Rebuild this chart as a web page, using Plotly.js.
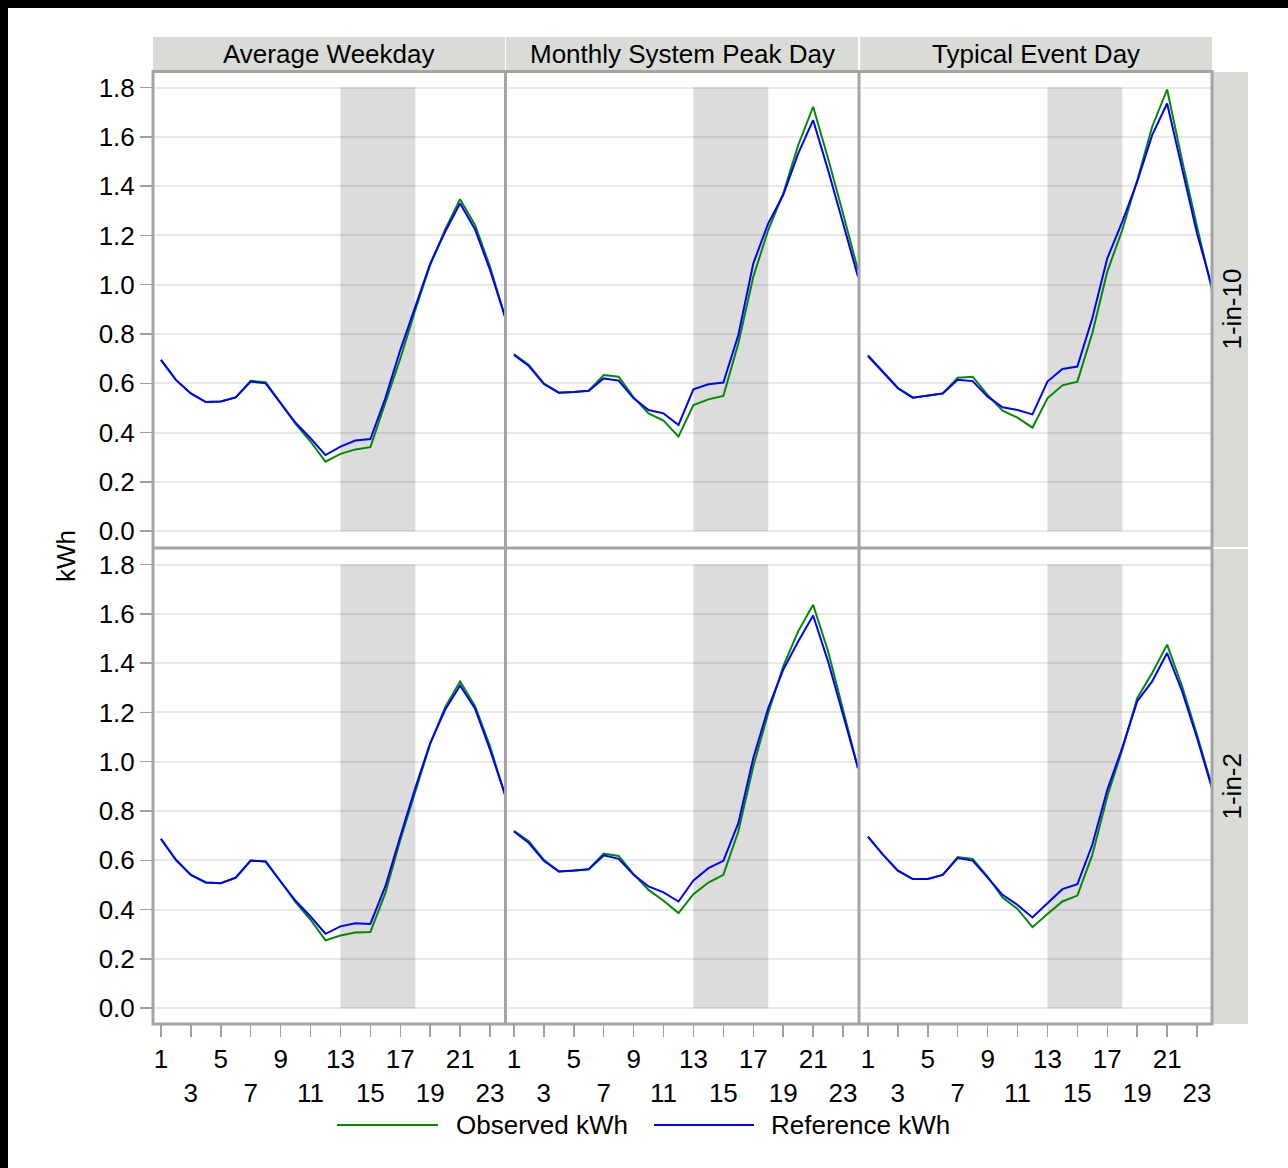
<!DOCTYPE html>
<html><head><meta charset="utf-8">
<script src="https://cdn.plot.ly/plotly-3.0.1.min.js"></script>
<style>html,body{margin:0;padding:0;background:#fff}#chart{width:1288px;height:1168px}</style>
</head><body><div id="chart"></div>
<script>
// ---------------- data ----------------
const hours = [1,2,3,4,5,6,7,8,9,10,11,12,13,14,15,16,17,18,19,20,21,22,23,24];
const dayTypes = ['Average Weekday', 'Monthly System Peak Day', 'Typical Event Day'];
const weatherScenarios = ['1-in-10', '1-in-2'];
const seriesNames = ['Observed kWh', 'Reference kWh'];
const xTickVals = [1,3,5,7,9,11,13,15,17,19,21,23];
const xTickText = ['1','<br>3','5','<br>7','9','<br>11','13','<br>15','17','<br>19','21','<br>23'];
const yTickVals = [0.0,0.2,0.4,0.6,0.8,1.0,1.2,1.4,1.6,1.8];
const yTickText = ['0.0','0.2','0.4','0.6','0.8','1.0','1.2','1.4','1.6','1.8'];
const eventWindow = [13, 18];
const shadeTop = 1.8;

// 1-in-10
const obsAvgWeekday_1in10 = [0.695,0.614,0.559,0.524,0.526,0.543,0.610,0.605,0.520,0.435,0.364,0.282,0.314,0.332,0.341,0.520,0.700,0.897,1.080,1.224,1.347,1.242,1.073,0.870];
const refAvgWeekday_1in10 = [0.695,0.614,0.559,0.524,0.526,0.543,0.607,0.600,0.520,0.440,0.377,0.309,0.343,0.368,0.374,0.539,0.735,0.910,1.086,1.215,1.330,1.224,1.060,0.870];
const obsPeakDay_1in10    = [0.719,0.674,0.600,0.562,0.565,0.570,0.634,0.627,0.543,0.478,0.449,0.384,0.512,0.535,0.549,0.762,1.032,1.222,1.370,1.566,1.722,1.512,1.289,1.059];
const refPeakDay_1in10    = [0.715,0.670,0.597,0.562,0.565,0.570,0.620,0.611,0.539,0.492,0.478,0.431,0.576,0.596,0.603,0.796,1.086,1.249,1.364,1.532,1.668,1.465,1.249,1.032];
const obsEventDay_1in10   = [0.714,0.650,0.582,0.542,0.550,0.559,0.623,0.627,0.553,0.489,0.461,0.420,0.539,0.592,0.607,0.803,1.053,1.222,1.424,1.641,1.792,1.505,1.235,0.978];
const refEventDay_1in10   = [0.711,0.647,0.580,0.542,0.550,0.559,0.614,0.609,0.546,0.503,0.492,0.474,0.607,0.658,0.668,0.864,1.107,1.255,1.418,1.607,1.735,1.465,1.208,0.992];
// 1-in-2
const obsAvgWeekday_1in2  = [0.687,0.602,0.541,0.510,0.507,0.530,0.599,0.595,0.514,0.430,0.359,0.275,0.295,0.307,0.309,0.467,0.683,0.880,1.072,1.221,1.326,1.225,1.062,0.866];
const refAvgWeekday_1in2  = [0.687,0.602,0.541,0.510,0.507,0.530,0.599,0.595,0.514,0.436,0.372,0.302,0.332,0.345,0.342,0.494,0.697,0.893,1.076,1.211,1.309,1.215,1.049,0.866];
const obsPeakDay_1in2     = [0.720,0.677,0.602,0.555,0.558,0.564,0.627,0.618,0.544,0.480,0.436,0.386,0.463,0.510,0.541,0.717,0.981,1.198,1.387,1.529,1.637,1.448,1.211,0.974];
const refPeakDay_1in2     = [0.717,0.670,0.598,0.555,0.559,0.564,0.620,0.606,0.541,0.494,0.470,0.433,0.518,0.568,0.598,0.751,1.015,1.218,1.373,1.488,1.593,1.407,1.191,0.974];
const obsEventDay_1in2    = [0.696,0.623,0.558,0.524,0.524,0.541,0.613,0.606,0.534,0.449,0.403,0.329,0.382,0.433,0.457,0.622,0.859,1.049,1.258,1.360,1.475,1.306,1.109,0.900];
const refEventDay_1in2    = [0.696,0.623,0.558,0.524,0.524,0.541,0.609,0.599,0.530,0.460,0.419,0.368,0.426,0.483,0.503,0.663,0.886,1.056,1.245,1.326,1.441,1.286,1.096,0.893];

const panelObserved = [
  [obsAvgWeekday_1in10, obsPeakDay_1in10, obsEventDay_1in10],
  [obsAvgWeekday_1in2,  obsPeakDay_1in2,  obsEventDay_1in2]
];
const panelReference = [
  [refAvgWeekday_1in10, refPeakDay_1in10, refEventDay_1in10],
  [refAvgWeekday_1in2,  refPeakDay_1in2,  refEventDay_1in2]
];

// ---------------- layout helpers ----------------
const W = 1288, H = 1168;
const PX = p => p / W;
const PY = p => 1 - p / H;
const cols = [[153, 505], [506, 858], [860, 1212]];
const rows = [[72, 547], [549, 1024]];
const FONT = 'Liberation Sans, Arial, Helvetica, sans-serif';
const GREEN = '#008a00', BLUE = '#0000ff';
const BORDER = '#a4a4a4', STRIP = '#d9dbd6';

const traces = [];
const layout = {
  width: W, height: H,
  margin: {l: 0, r: 0, t: 0, b: 0, pad: 0},
  paper_bgcolor: '#ffffff', plot_bgcolor: '#ffffff',
  showlegend: false,
  font: {family: FONT, size: 26, color: '#000'},
  shapes: [], annotations: []
};

for (let r = 0; r < 2; r++) {
  for (let c = 0; c < 3; c++) {
    const n = r * 3 + c + 1;
    const xid = n === 1 ? 'x' : 'x' + n;
    const yid = n === 1 ? 'y' : 'y' + n;
    const xkey = n === 1 ? 'xaxis' : 'xaxis' + n;
    const ykey = n === 1 ? 'yaxis' : 'yaxis' + n;
    layout[xkey] = {
      domain: [PX(cols[c][0]), PX(cols[c][1])],
      range: [0.47, 24.0], anchor: yid,
      showgrid: false, zeroline: false, showline: false,
      tickmode: 'array', tickvals: xTickVals, ticktext: xTickText,
      tickangle: 0,
      showticklabels: r === 1, ticks: r === 1 ? 'outside' : '',
      ticklen: 12, tickwidth: 1.5, tickcolor: '#a0a0a0',
      tickfont: {family: FONT, size: 26, color: '#000'},
      fixedrange: true
    };
    layout[ykey] = {
      domain: [PY(rows[r][1]), PY(rows[r][0])],
      range: [-0.064, 1.863], anchor: xid,
      showgrid: true, gridcolor: 'rgba(0,0,0,0.09)', gridwidth: 2,
      zeroline: false, showline: false,
      tickmode: 'array', tickvals: yTickVals, ticktext: yTickText,
      showticklabels: c === 0, ticks: c === 0 ? 'outside' : '',
      ticklen: 12, tickwidth: 1.5, tickcolor: '#a0a0a0',
      tickfont: {family: FONT, size: 26, color: '#000'},
      fixedrange: true
    };
    // event window shading
    layout.shapes.push({type: 'rect', xref: xid, yref: yid,
      x0: eventWindow[0], x1: eventWindow[1], y0: 0, y1: shadeTop,
      fillcolor: '#dcdcdc', line: {width: 0}, layer: 'below'});
    traces.push({x: hours, y: panelObserved[r][c], xaxis: xid, yaxis: yid,
      type: 'scatter', mode: 'lines', name: seriesNames[0],
      line: {color: GREEN, width: 2}, hoverinfo: 'x+y'});
    traces.push({x: hours, y: panelReference[r][c], xaxis: xid, yaxis: yid,
      type: 'scatter', mode: 'lines', name: seriesNames[1],
      line: {color: BLUE, width: 2}, hoverinfo: 'x+y'});
  }
}

// strips (column headers)
for (let c = 0; c < 3; c++) {
  layout.shapes.push({type: 'rect', xref: 'paper', yref: 'paper',
    x0: PX(cols[c][0]), x1: PX(cols[c][1]), y0: PY(71), y1: PY(37),
    fillcolor: STRIP, line: {width: 0}, layer: 'above'});
  layout.annotations.push({xref: 'paper', yref: 'paper',
    x: PX((cols[c][0] + cols[c][1]) / 2), y: PY(54),
    xanchor: 'center', yanchor: 'middle', showarrow: false,
    text: dayTypes[c], font: {family: FONT, size: 26, color: '#000'}});
}
// strips (row headers)
for (let r = 0; r < 2; r++) {
  layout.shapes.push({type: 'rect', xref: 'paper', yref: 'paper',
    x0: PX(1213), x1: PX(1248), y0: PY(rows[r][1]), y1: PY(rows[r][0]),
    fillcolor: STRIP, line: {width: 0}, layer: 'above'});
  layout.annotations.push({xref: 'paper', yref: 'paper',
    x: PX(1231), y: PY((rows[r][0] + rows[r][1]) / 2),
    xanchor: 'center', yanchor: 'middle', showarrow: false, textangle: -90,
    text: weatherScenarios[r], font: {family: FONT, size: 26, color: '#000'}});
}

// panel borders
const bl = {color: BORDER, width: 3};
layout.shapes.push({type: 'rect', xref: 'paper', yref: 'paper',
  x0: PX(153), x1: PX(1212), y0: PY(1024), y1: PY(71.5), line: bl, layer: 'above'});
[505.5, 859].forEach(xp => layout.shapes.push({type: 'line', xref: 'paper', yref: 'paper',
  x0: PX(xp), x1: PX(xp), y0: PY(1024), y1: PY(71.5), line: bl, layer: 'above'}));
layout.shapes.push({type: 'line', xref: 'paper', yref: 'paper',
  x0: PX(153), x1: PX(1212), y0: PY(548), y1: PY(548), line: bl, layer: 'above'});

// y axis title
layout.annotations.push({xref: 'paper', yref: 'paper', x: PX(66), y: PY(556),
  xanchor: 'center', yanchor: 'middle', showarrow: false, textangle: -90,
  text: 'kWh', font: {family: FONT, size: 26, color: '#000'}});

// legend (keys + labels)
const legendY = 1125;
[[337, 438, GREEN, 454, seriesNames[0]], [654, 754, BLUE, 769, seriesNames[1]]].forEach(([a, b, col, tx, label]) => {
  layout.shapes.push({type: 'line', xref: 'paper', yref: 'paper',
    x0: PX(a), x1: PX(b), y0: PY(legendY), y1: PY(legendY), line: {color: col, width: 2}});
  layout.annotations.push({xref: 'paper', yref: 'paper', x: PX(tx), y: PY(legendY),
    xanchor: 'left', yanchor: 'middle', showarrow: false,
    text: label, font: {family: FONT, size: 26, color: '#000'}});
});

// outer black frame (left and top edges)
layout.shapes.push({type: 'rect', xref: 'paper', yref: 'paper',
  x0: 0, x1: PX(8), y0: 0, y1: 1, fillcolor: '#000', line: {width: 0}});
layout.shapes.push({type: 'rect', xref: 'paper', yref: 'paper',
  x0: 0, x1: 1, y0: PY(8), y1: 1, fillcolor: '#000', line: {width: 0}});

Plotly.newPlot('chart', traces, layout, {displayModeBar: false, staticPlot: true});
</script></body></html>
